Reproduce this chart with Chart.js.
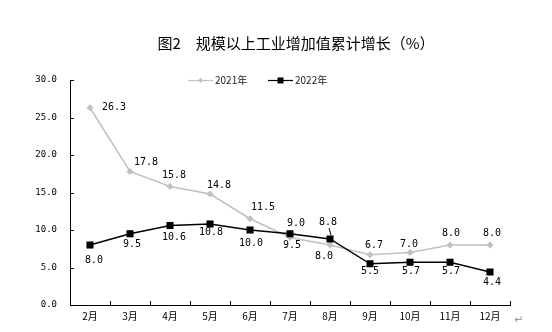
<!DOCTYPE html>
<html>
<head>
<meta charset="utf-8">
<script src="https://cdn.jsdelivr.net/npm/chart.js@4/dist/chart.umd.min.js"></script>
<style>
  html, body { margin: 0; padding: 0; background: #fff; }
  #wrap { width: 552px; height: 332px; }
</style>
</head>
<body>
<div id="wrap"><canvas id="growthChart" width="552" height="332"></canvas></div>
<script>
// Data
const months = ['2月', '3月', '4月', '5月', '6月', '7月', '8月', '9月', '10月', '11月', '12月'];
const growth2021 = [26.3, 17.8, 15.8, 14.8, 11.5, 9.0, 8.0, 6.7, 7.0, 8.0, 8.0];
const growth2022 = [8.0, 9.5, 10.6, 10.8, 10.0, 9.5, 8.8, 5.5, 5.7, 5.7, 4.4];
const yTicks = [0, 5, 10, 15, 20, 25, 30];

// label nudges relative to each point [dx, dy]
const nudge2021 = [[24, 0], [16, -9], [4, -11], [9, -9], [13, -11], [6, -14], [-6, 11], [4, -9], [-1, -8], [1, -12], [2, -12]];
const nudge2022 = [[4, 15], [2, 11], [4, 12], [1, 8], [1, 13], [2, 12], [-2, -17], [0, 8], [1, 9], [1, 9], [2, 10]];

const GRAY = '#c0c0c0';

// Title, legend, inner ticks and value labels
const decorPlugin = {
    id: 'decor',
    afterDraw(chart) {
        const ctx = chart.ctx;
        const xs = chart.scales.x;
        const ys = chart.scales.y;
        const area = chart.chartArea;
        ctx.save();

        // title
        ctx.fillStyle = '#000';
        ctx.font = "15px 'Noto Sans CJK SC'";
        ctx.textAlign = 'center';
        ctx.textBaseline = 'middle';
        ctx.fillText('图2\u3000规模以上工业增加值累计增长（%）', 296, 43);

        // axis ticks pointing inward
        ctx.strokeStyle = '#000';
        ctx.lineWidth = 1;
        ctx.beginPath();
        yTicks.forEach(v => {
            const y = Math.round(ys.getPixelForValue(v)) + 0.5;
            ctx.moveTo(area.left, y);
            ctx.lineTo(area.left + 4, y);
        });
        const step = xs.getPixelForValue(1) - xs.getPixelForValue(0);
        for (let i = 0; i <= months.length; i++) {
            const x = Math.round(xs.getPixelForValue(i) - step / 2) + 0.5;
            ctx.moveTo(x, area.bottom);
            ctx.lineTo(x, area.bottom - 4);
        }
        ctx.stroke();

        // legend
        ctx.font = "10px 'Noto Sans CJK SC'";
        ctx.textAlign = 'left';
        ctx.lineWidth = 1.2;
        ctx.strokeStyle = GRAY;
        ctx.beginPath();
        ctx.moveTo(188, 80.5);
        ctx.lineTo(213, 80.5);
        ctx.stroke();
        ctx.fillStyle = GRAY;
        ctx.beginPath();
        ctx.moveTo(200.5, 78);
        ctx.lineTo(203, 80.5);
        ctx.lineTo(200.5, 83);
        ctx.lineTo(198, 80.5);
        ctx.fill();
        ctx.fillStyle = '#222';
        ctx.fillText('2021年', 215, 80.5);

        ctx.strokeStyle = '#000';
        ctx.beginPath();
        ctx.moveTo(268, 80.5);
        ctx.lineTo(293, 80.5);
        ctx.stroke();
        ctx.fillStyle = '#000';
        ctx.fillRect(277.5, 77.5, 6, 6);
        ctx.fillStyle = '#222';
        ctx.fillText('2022年', 295, 80.5);

        // value labels
        ctx.font = "10px 'DejaVu Sans Mono'";
        ctx.textAlign = 'center';
        ctx.fillStyle = '#000';
        const drawLabels = (dsIndex, values, nudges) => {
            const pts = chart.getDatasetMeta(dsIndex).data;
            values.forEach((v, i) => {
                ctx.fillText(v.toFixed(1), pts[i].x + nudges[i][0], pts[i].y + nudges[i][1]);
            });
        };
        drawLabels(0, growth2021, nudge2021);
        drawLabels(1, growth2022, nudge2022);

        // leader line for 8.8
        const p = chart.getDatasetMeta(1).data[6];
        ctx.strokeStyle = '#000';
        ctx.lineWidth = 1;
        ctx.beginPath();
        ctx.moveTo(p.x - 1, p.y - 11);
        ctx.lineTo(p.x + 1, p.y - 4);
        ctx.stroke();

        // paragraph mark
        ctx.fillStyle = '#999';
        ctx.font = "11px 'DejaVu Sans'";
        ctx.fillText('\u21b5', 519, 320);

        ctx.restore();
    }
};

const growthCtx = document.getElementById('growthChart').getContext('2d');
const growthChart = new Chart(growthCtx, {
    type: 'line',
    data: {
        labels: months,
        datasets: [
            {
                label: '2021年',
                data: growth2021,
                borderColor: GRAY,
                backgroundColor: GRAY,
                borderWidth: 1.5,
                pointStyle: 'rectRot',
                pointRadius: 3.5,
                pointBorderWidth: 0,
                tension: 0,
                order: 2
            },
            {
                label: '2022年',
                data: growth2022,
                borderColor: '#000',
                backgroundColor: '#000',
                borderWidth: 1.3,
                pointStyle: 'rect',
                pointRadius: 5,
                pointBorderWidth: 0,
                tension: 0,
                order: 1
            }
        ]
    },
    options: {
        responsive: false,
        animation: false,
        layout: {
            padding: { top: 80, right: 42, bottom: 0, left: 0 }
        },
        plugins: {
            legend: { display: false },
            title: { display: false },
            tooltip: { enabled: false }
        },
        scales: {
            y: {
                min: 0,
                max: 30,
                afterFit(scale) { scale.width = 70; },
                afterBuildTicks(scale) { scale.ticks = yTicks.map(v => ({ value: v })); },
                grid: { display: false, drawTicks: false },
                border: { display: true, color: '#000', width: 1 },
                ticks: {
                    padding: 13,
                    color: '#000',
                    font: { family: 'DejaVu Sans Mono', size: 9 },
                    callback: v => v.toFixed(1)
                }
            },
            x: {
                offset: true,
                afterFit(scale) { scale.height = 27; },
                grid: { display: false, drawTicks: false },
                border: { display: true, color: '#000', width: 1 },
                ticks: {
                    padding: 5,
                    color: '#000',
                    maxRotation: 0,
                    autoSkip: false,
                    font: { family: 'Noto Sans CJK SC', size: 10 }
                }
            }
        }
    },
    plugins: [decorPlugin]
});
</script>
</body>
</html>
